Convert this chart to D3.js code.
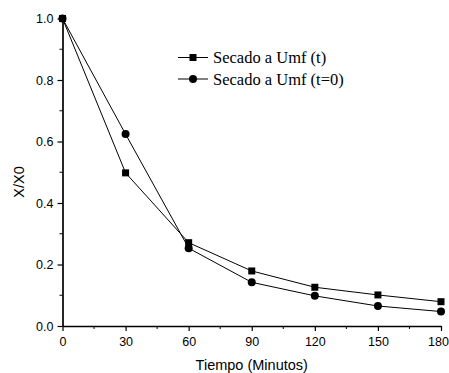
<!DOCTYPE html>
<html>
<head>
<meta charset="utf-8">
<script src="https://cdn.jsdelivr.net/npm/d3@7"></script>
<style>
  body { margin: 0; background: #fff; }
  svg { display: block; }
</style>
</head>
<body>
<script>
// data
var tiempo = [0, 30, 60, 90, 120, 150, 180];
var secadoT = [1.0, 0.498, 0.271, 0.179, 0.126, 0.101, 0.079];
var secadoT0 = [1.0, 0.624, 0.253, 0.142, 0.098, 0.065, 0.047];
var seriesNames = ['Secado a Umf (t)', 'Secado a Umf (t=0)'];
var xTicks = [0, 30, 60, 90, 120, 150, 180];
var yTicks = [0.0, 0.2, 0.4, 0.6, 0.8, 1.0];

var W = 449, H = 373;
var m = {left: 62.5, right: 8, top: 18.5, bottom: 47};

var svg = d3.select('body').append('svg')
  .attr('width', W)
  .attr('height', H);

var x = d3.scaleLinear().domain([0, 180]).range([m.left, W - m.right]);
var y = d3.scaleLinear().domain([0, 1]).range([H - m.bottom, m.top]);

// minor ticks
var g = svg.append('g');
g.selectAll('.mx').data(d3.range(15, 180, 30)).enter().append('line')
  .attr('x1', function(d){ return x(d); }).attr('x2', function(d){ return x(d); })
  .attr('y1', y(0)).attr('y2', y(0) + 3)
  .attr('stroke', '#000').attr('stroke-width', 1);
g.selectAll('.my').data(d3.range(0.1, 1.0, 0.2)).enter().append('line')
  .attr('y1', function(d){ return y(d); }).attr('y2', function(d){ return y(d); })
  .attr('x1', x(0)).attr('x2', x(0) - 3)
  .attr('stroke', '#000').attr('stroke-width', 1);

var xAxis = svg.append('g')
  .attr('transform', 'translate(0,' + y(0) + ')')
  .call(d3.axisBottom(x).tickValues(xTicks).tickSize(5).tickPadding(3).tickSizeOuter(0).tickFormat(d3.format('d')));
var yAxis = svg.append('g')
  .attr('transform', 'translate(' + x(0) + ',0)')
  .call(d3.axisLeft(y).tickValues(yTicks).tickSize(5).tickPadding(4).tickSizeOuter(0).tickFormat(d3.format('.1f')));

[xAxis, yAxis].forEach(function(a){
  a.select('.domain').attr('stroke', '#000').attr('stroke-width', 1.7);
  a.selectAll('.tick line').attr('stroke', '#000').attr('stroke-width', 1.2);
  a.selectAll('text').attr('font-family', 'Liberation Sans, Arial, sans-serif')
    .attr('font-size', 12.5).attr('fill', '#000');
});
xAxis.selectAll('text').attr('dy', '0.95em');
// the last label sits against the right edge
xAxis.selectAll('.tick').filter(function(d){ return d === 180; }).select('text').attr('dx', -3);

// axis titles
svg.append('text')
  .attr('x', (x(0) + x(180)) / 2).attr('y', 370)
  .attr('text-anchor', 'middle')
  .attr('font-family', 'Liberation Sans, Arial, sans-serif')
  .attr('font-size', 14.5)
  .text('Tiempo (Minutos)');
svg.append('text')
  .attr('transform', 'translate(24,182) rotate(-90)')
  .attr('text-anchor', 'middle')
  .attr('font-family', 'Liberation Sans, Arial, sans-serif')
  .attr('font-size', 14.5)
  .text('X/X0');

var line = d3.line()
  .x(function(d, i){ return x(tiempo[i]); })
  .y(function(d){ return y(d); });

[secadoT, secadoT0].forEach(function(s){
  svg.append('path').datum(s)
    .attr('d', line)
    .attr('fill', 'none').attr('stroke', '#000').attr('stroke-width', 1);
});

svg.selectAll('.sq').data(secadoT).enter().append('rect')
  .attr('x', function(d, i){ return x(tiempo[i]) - 3.5; })
  .attr('y', function(d){ return y(d) - 3.5; })
  .attr('width', 7).attr('height', 7)
  .attr('fill', '#000');
svg.selectAll('.ci').data(secadoT0).enter().append('circle')
  .attr('cx', function(d, i){ return x(tiempo[i]); })
  .attr('cy', function(d){ return y(d); })
  .attr('r', 4)
  .attr('fill', '#000');

// legend
var leg = svg.append('g');
seriesNames.forEach(function(name, i){
  var ly = 57.5 + i * 21.5;
  leg.append('line').attr('x1', 178).attr('x2', 208).attr('y1', ly).attr('y2', ly)
    .attr('stroke', '#000').attr('stroke-width', 1);
  if (i === 0) {
    leg.append('rect').attr('x', 193 - 3.5).attr('y', ly - 3.5).attr('width', 7).attr('height', 7).attr('fill', '#000');
  } else {
    leg.append('circle').attr('cx', 193).attr('cy', ly).attr('r', 4).attr('fill', '#000');
  }
  leg.append('text').attr('x', 213).attr('y', ly + 5.5)
    .attr('font-family', 'Liberation Serif, Times New Roman, serif')
    .attr('font-size', 16.5)
    .text(name);
});
</script>
</body>
</html>
